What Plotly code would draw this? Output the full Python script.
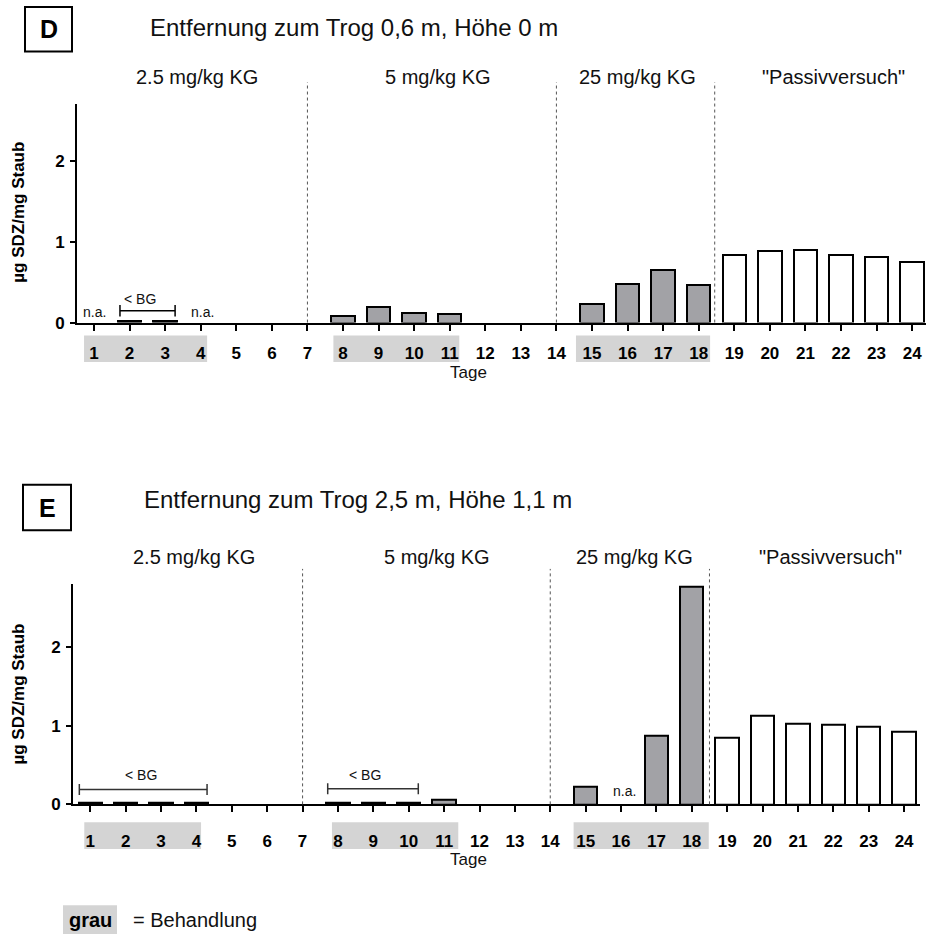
import plotly.graph_objects as go

W, H = 926, 944

days = list(range(1, 25))
tick_labels = [str(d) for d in days]
treated = [d in (1, 2, 3, 4, 8, 9, 10, 11, 15, 16, 17, 18) for d in days]
# None = n.a. (not analysed); 0 = no measurement shown
d_values = [None, 0.02, 0.02, None, 0, 0, 0,
            0.085, 0.195, 0.125, 0.11, 0, 0, 0,
            0.235, 0.48, 0.655, 0.47,
            0.83, 0.89, 0.90, 0.83, 0.81, 0.75]
e_values = [0.02, 0.02, 0.02, 0.02, 0, 0, 0,
            0.02, 0.02, 0.02, 0.065, 0, 0, 0,
            0.22, None, 0.88, 2.77,
            0.85, 1.13, 1.03, 1.02, 0.99, 0.93]
group_labels = ["2.5 mg/kg KG", "5 mg/kg KG", "25 mg/kg KG", "\"Passivversuch\""]
titles = ["Entfernung zum Trog 0,6 m, Höhe 0 m", "Entfernung zum Trog 2,5 m, Höhe 1,1 m"]
y_title = "µg SDZ/mg Staub"

FONT = "Arial, Liberation Sans, sans-serif"
GREY_BAR = "#a2a2a6"
GREY_BG = "#d4d4d4"


def px(x):
    return x / W


def py(y):
    return 1 - y / H


fig = go.Figure()

panels = [
    dict(vals=d_values, xa="x", ya="y", xdom=[77, 926], xr=[0.522, 24.39], y0=326, ytop=105, yr=[0, 2.7],
         sep=[7, 14, 18.45], septop=83, boxes=[(0.72, 4.18), (7.73, 11.27), (14.55, 18.32)],
         box_y=(339, 366), standoff=8, grp_y=78, grp_x=[197, 438, 637, 833],
         title_x=148, title_y=28, letter="D", lbox=(25, 7, 72, 52), tage_y=376, ytitle_y=215),
    dict(vals=e_values, xa="x2", ya="y2", xdom=[73, 920], xr=[0.511, 24.45], y0=813, ytop=590, yr=[0, 2.81],
         sep=[7, 14, 18.5], septop=575, boxes=[(0.83, 4.13), (7.83, 11.4), (14.66, 18.48)],
         box_y=(831, 858), standoff=14, grp_y=563, grp_x=[194, 437, 634, 830],
         title_x=142, title_y=505, letter="E", lbox=(23, 490, 71, 536), tage_y=869, ytitle_y=702),
]

shapes = []
annotations = []

for i, p in enumerate(panels):
    xs_t, ys_t, xs_w, ys_w = [], [], [], []
    for d, v, t in zip(days, p["vals"], treated):
        if v is None or v <= 0:
            continue
        if t:
            xs_t.append(d); ys_t.append(v)
        else:
            xs_w.append(d); ys_w.append(v)
    fig.add_trace(go.Bar(x=xs_t, y=ys_t, xaxis=p["xa"], yaxis=p["ya"], width=0.66,
                         marker=dict(color=GREY_BAR, line=dict(color="black", width=2)),
                         showlegend=False, hoverinfo="x+y"))
    fig.add_trace(go.Bar(x=xs_w, y=ys_w, xaxis=p["xa"], yaxis=p["ya"], width=0.66,
                         marker=dict(color="white", line=dict(color="black", width=2)),
                         showlegend=False, hoverinfo="x+y"))

    xkey = "xaxis" if i == 0 else "xaxis2"
    ykey = "yaxis" if i == 0 else "yaxis2"
    fig.update_layout(**{
        xkey: dict(domain=[px(p["xdom"][0]), px(p["xdom"][1])], range=p["xr"], anchor=p["ya"],
                   tickvals=days, ticktext=tick_labels, ticks="outside", ticklen=6, tickwidth=1.5,
                   tickcolor="black", showline=True, linecolor="black", linewidth=2,
                   showgrid=False, zeroline=False, ticklabelstandoff=p["standoff"],
                   tickfont=dict(family=FONT, size=17, color="black", weight="bold")),
        ykey: dict(domain=[py(p["y0"]), py(p["ytop"])], range=p["yr"], anchor=p["xa"],
                   tickvals=[0, 1, 2], ticktext=["0", "1", "2"], ticks="outside", ticklen=5,
                   tickwidth=1.5, tickcolor="black", showline=True, linecolor="black", linewidth=2,
                   showgrid=False, zeroline=False, ticklabelstandoff=2,
                   tickfont=dict(family=FONT, size=17, color="black", weight="bold")),
    })

    # grey boxes behind treatment-day tick labels
    for (a, b) in p["boxes"]:
        shapes.append(dict(type="rect", xref=p["xa"], yref="paper", x0=a, x1=b,
                           y0=py(p["box_y"][1]), y1=py(p["box_y"][0]),
                           fillcolor=GREY_BG, line=dict(width=0), layer="below"))
    # dotted separators
    for s in p["sep"]:
        shapes.append(dict(type="line", xref=p["xa"], yref="paper", x0=s, x1=s,
                           y0=py(p["y0"]), y1=py(p["septop"]),
                           line=dict(color="#555555", width=1, dash="dot")))
    # group labels
    for gx, gl in zip(p["grp_x"], group_labels):
        annotations.append(dict(x=px(gx), y=py(p["grp_y"]), xref="paper", yref="paper", text=gl,
                                showarrow=False, xanchor="center", yanchor="middle",
                                font=dict(family=FONT, size=20, color="#111111")))
    # title
    annotations.append(dict(x=px(p["title_x"]), y=py(p["title_y"]), xref="paper", yref="paper",
                            text=titles[i], showarrow=False, xanchor="left", yanchor="middle",
                            font=dict(family=FONT, size=24, color="#111111")))
    # panel letter box
    x0, y0, x1, y1 = p["lbox"]
    shapes.append(dict(type="rect", xref="paper", yref="paper", x0=px(x0), x1=px(x1),
                       y0=py(y1), y1=py(y0), line=dict(color="black", width=2)))
    annotations.append(dict(x=px((x0 + x1) / 2), y=py((y0 + y1) / 2), xref="paper", yref="paper",
                            text=p["letter"], showarrow=False, xanchor="center", yanchor="middle",
                            font=dict(family=FONT, size=25, color="black", weight="bold")))
    # Tage
    annotations.append(dict(x=px(468), y=py(p["tage_y"]), xref="paper", yref="paper", text="Tage",
                            showarrow=False, xanchor="center", yanchor="middle",
                            font=dict(family=FONT, size=17, color="#111111")))
    # y title
    annotations.append(dict(x=px(19), y=py(p["ytitle_y"]), xref="paper", yref="paper", text=y_title,
                            showarrow=False, textangle=-90, xanchor="center", yanchor="middle",
                            font=dict(family=FONT, size=17, color="black", weight="bold")))


def bracket(xa, ya, a, b, yv, cap, color):
    shapes.append(dict(type="line", xref=xa, yref=ya, x0=a, x1=b, y0=yv, y1=yv,
                       line=dict(color=color, width=1.5)))
    for xx in (a, b):
        shapes.append(dict(type="line", xref=xa, yref=ya, x0=xx, x1=xx, y0=yv - cap, y1=yv + cap,
                           line=dict(color=color, width=1.5)))


def note(xa, ya, x, y, text, size):
    annotations.append(dict(x=x, y=y, xref=xa, yref=ya, text=text, showarrow=False,
                            xanchor="center", yanchor="middle",
                            font=dict(family=FONT, size=size, color="#111111")))


# Panel D notes
note("x", "y", 1.0, 0.134, "n.a.", 14)
note("x", "y", 4.05, 0.134, "n.a.", 14)
bracket("x", "y", 1.73, 3.28, 0.146, 0.07, "black")
note("x", "y", 2.3, 0.285, "&lt; BG", 14)

# Panel E notes
note("x2", "y2", 16.09, 0.17, "n.a.", 14)
bracket("x2", "y2", 0.69, 4.3, 0.19, 0.07, "#333333")
note("x2", "y2", 2.44, 0.378, "&lt; BG", 14)
bracket("x2", "y2", 7.71, 10.27, 0.20, 0.07, "#333333")
note("x2", "y2", 8.77, 0.37, "&lt; BG", 14)

# legend at bottom
shapes.append(dict(type="rect", xref="paper", yref="paper", x0=px(63), x1=px(117),
                   y0=py(944), y1=py(915), fillcolor=GREY_BG, line=dict(width=0), layer="below"))
annotations.append(dict(x=px(90), y=py(930), xref="paper", yref="paper", text="grau",
                        showarrow=False, xanchor="center", yanchor="middle",
                        font=dict(family=FONT, size=20, color="black", weight="bold")))
annotations.append(dict(x=px(131), y=py(930), xref="paper", yref="paper", text="= Behandlung",
                        showarrow=False, xanchor="left", yanchor="middle",
                        font=dict(family=FONT, size=20, color="#111111")))

fig.update_layout(width=W, height=H, margin=dict(l=0, r=0, t=0, b=0),
                  paper_bgcolor="white", plot_bgcolor="white", bargap=0,
                  shapes=shapes, annotations=annotations, showlegend=False,
                  font=dict(family=FONT))

fig.write_html("out.html")
